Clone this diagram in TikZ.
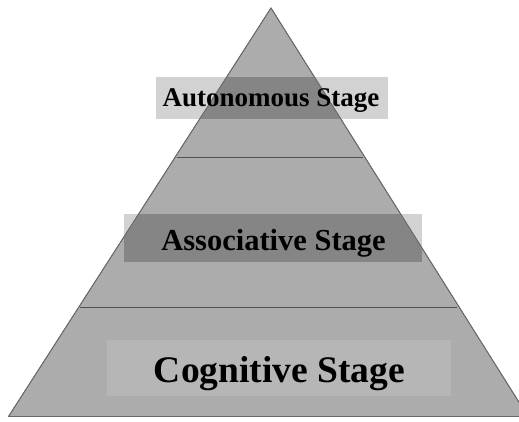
\documentclass[tikz,border=0pt]{standalone}
\usepackage{fontspec}
\setmainfont{Liberation Serif}
\begin{document}
\begin{tikzpicture}[x=1pt,y=-1pt,
  tri/.style={fill=pyr, draw=edge, line width=0.8pt, line join=miter},
  sep/.style={draw=sepline, line width=1.2pt},
  lightbox/.style={fill=boxlight},
  darkbox/.style={fill=boxdark},
  stagelabel/.style={anchor=base, inner sep=0pt, text=black, font=\bfseries}]
\definecolor{pyr}{HTML}{ACACAC}
\definecolor{edge}{HTML}{6A6A6A}
\definecolor{sepline}{HTML}{505050}
\definecolor{boxlight}{HTML}{D2D2D2}
\definecolor{boxdark}{HTML}{858585}
\definecolor{boxcog}{HTML}{B6B6B6}
\useasboundingbox (0,0) rectangle (519,421);
\fill[white] (0,0) rectangle (519,421);
% pyramid corners
\coordinate (apex) at (271,8);
\coordinate (bl) at (8.5,416.5);
\coordinate (br) at (528,416.5);
% light parts of the boxes
\path (155.7,76.7) coordinate (a1) (387.7,118.7) coordinate (a2);
\path (124.3,214.3) coordinate (b1) (421.7,261.7) coordinate (b2);
\path (107.3,340) coordinate (c1) (450.7,395.7) coordinate (c2);
\fill[lightbox] (a1) rectangle (a2);
\fill[lightbox] (b1) rectangle (b2);
\path[tri] (apex) -- (bl) -- (br) -- cycle;
\begin{scope}
  \clip (apex) -- (bl) -- (br) -- cycle;
  \fill[darkbox] (a1) rectangle (a2);
  \fill[darkbox] (b1) rectangle (b2);
\end{scope}
\fill[boxcog] (c1) rectangle (c2);
\draw[draw=edge, line width=0.8pt] (bl) -- (apex) -- (br);
\draw[draw=edge, line width=0.8pt] (bl) -- (br);
% separators
\path (176.7,157.3) coordinate (s1l) (363.3,157.3) coordinate (s1r);
\path (80,307.3) coordinate (s2l) (457.3,307.3) coordinate (s2r);
\draw[sep] (s1l) -- (s1r);
\draw[sep] (s2l) -- (s2r);
% labels
\node[stagelabel, font=\bfseries\fontsize{27}{30}\selectfont] (auto) at (271,106.7) {Autonomous Stage};
\node[stagelabel, font=\bfseries\fontsize{30.5}{34}\selectfont] (assoc) at (273.5,250.7) {Associative Stage};
\node[stagelabel, font=\bfseries\fontsize{37.5}{42}\selectfont] (cog) at (279.5,382) {Cognitive Stage};
\end{tikzpicture}
\end{document}
